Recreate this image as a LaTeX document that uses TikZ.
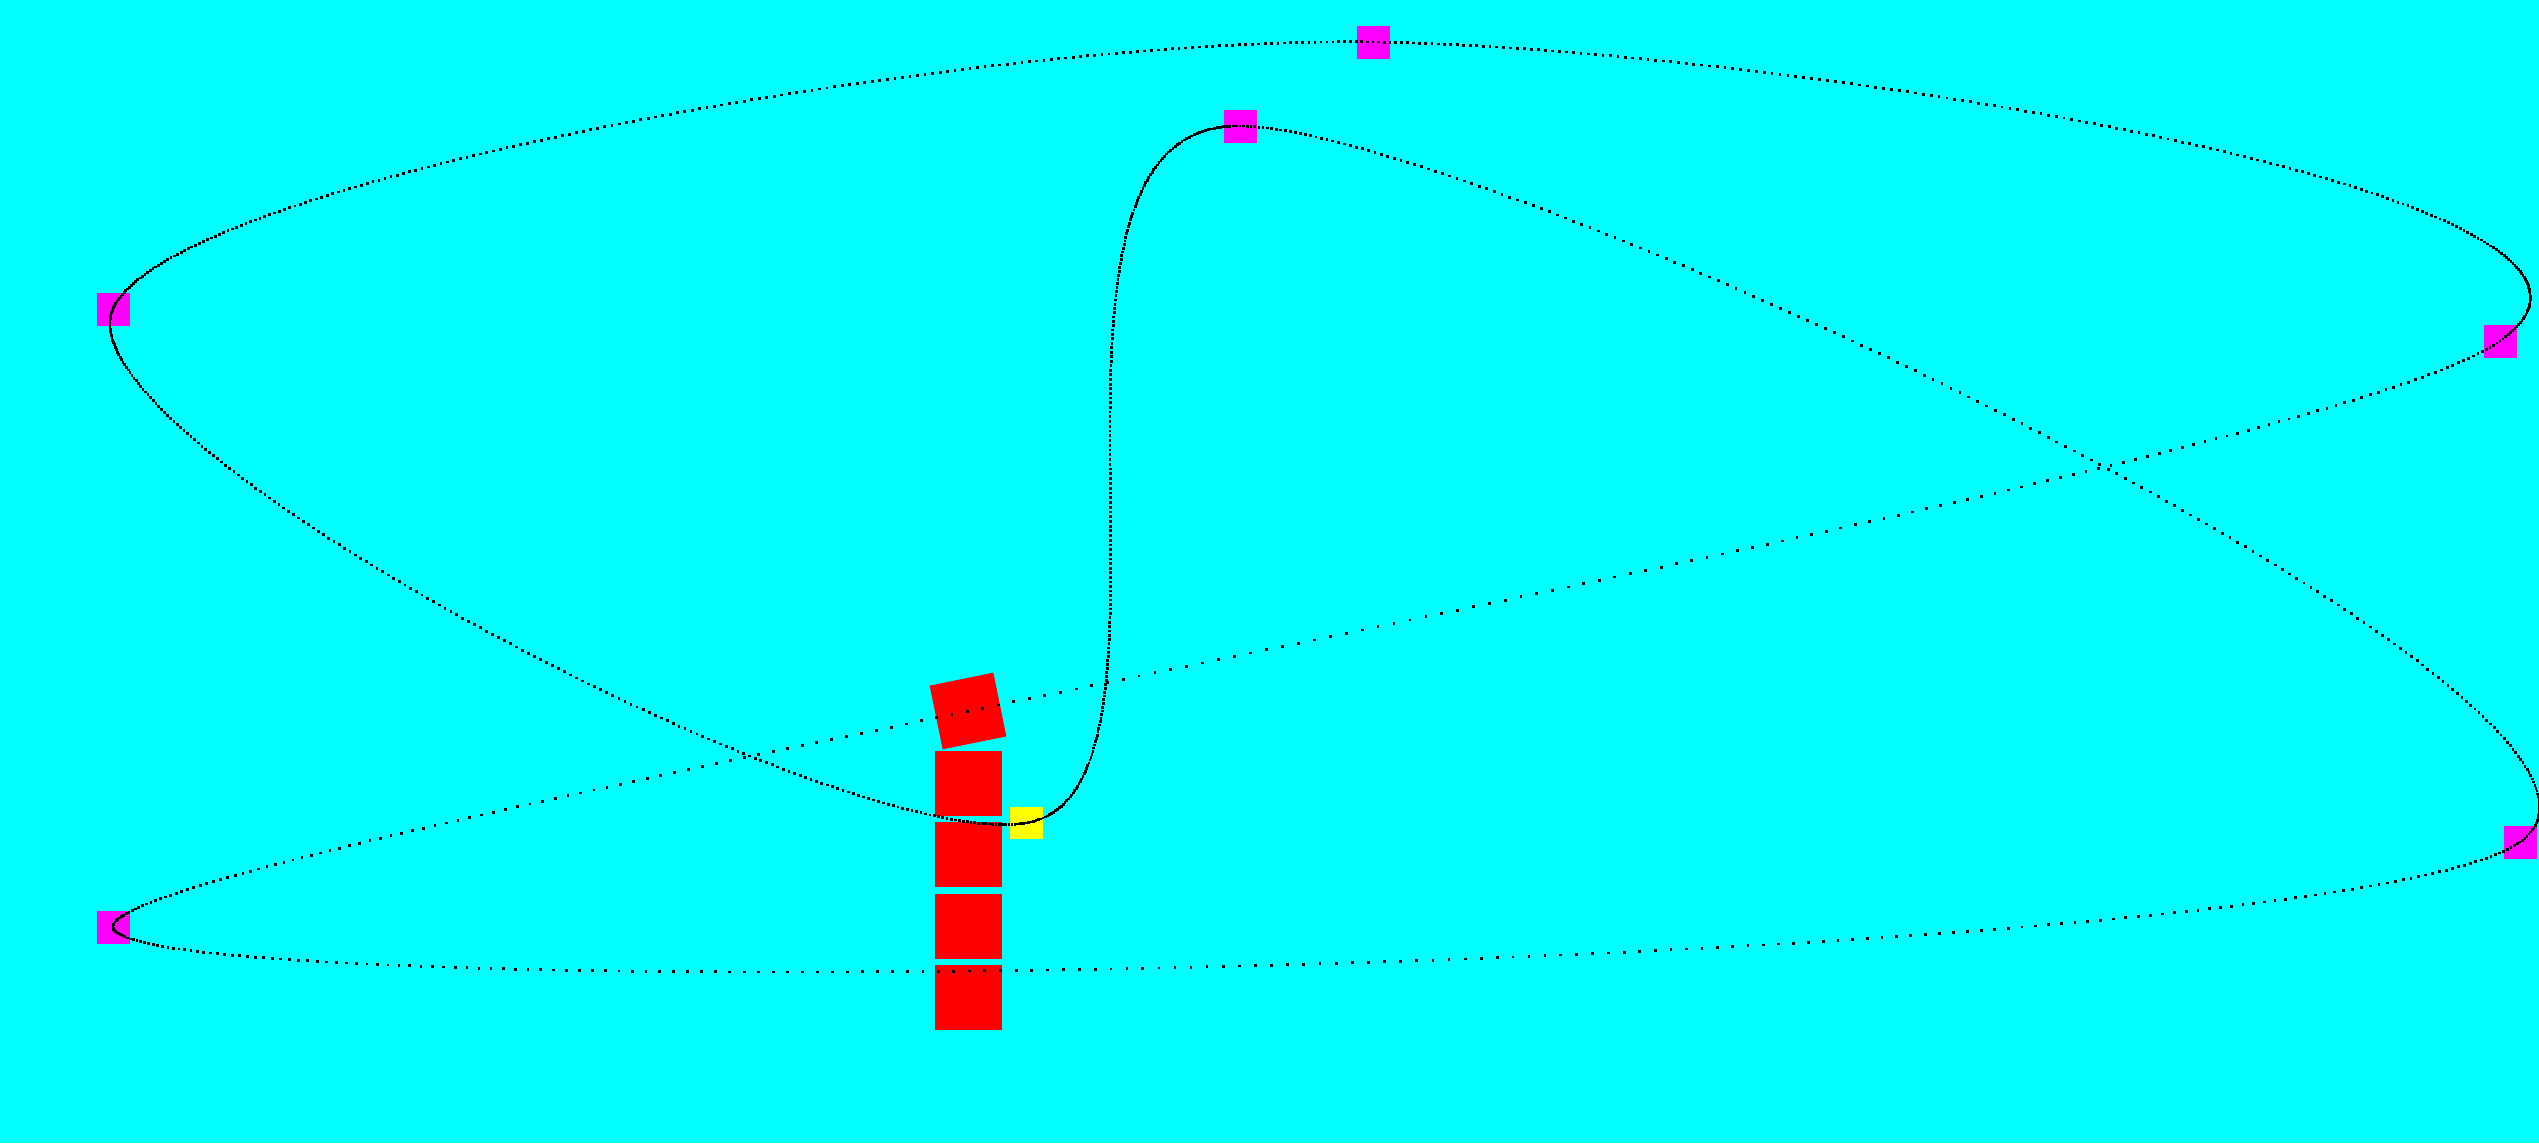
\documentclass[tikz,border=0pt]{standalone}
\definecolor{bgcyan}{RGB}{0,255,255}
\definecolor{mkmagenta}{RGB}{255,0,255}
\definecolor{gyellow}{RGB}{255,255,0}
\definecolor{bred}{RGB}{255,0,0}
\begin{document}
\begin{tikzpicture}[x=10pt,y=-10pt,
  marker/.style={fill=mkmagenta,draw=none,inner sep=0pt,minimum width=33pt,minimum height=33pt},
  goal/.style={fill=gyellow,draw=none,inner sep=0pt,minimum width=33pt,minimum height=32pt},
  block/.style={fill=bred,draw=none,inner sep=0pt,minimum width=67pt,minimum height=65pt},
  pathdot/.style={fill=black}]
\useasboundingbox (0,0) rectangle (253.9,114.3);
\fill[bgcyan] (0,0) rectangle (253.9,114.3);
% red blocks
\node[block] (r1) at (96.85,78.35) {};
\node[block] (r2) at (96.85,85.45) {};
\node[block] (r3) at (96.85,92.65) {};
\node[block] (r4) at (96.85,99.7) {};
\node[block,minimum width=65pt,rotate=11.5] (r5) at (96.8,71.1) {};
% yellow goal
\node[goal] (g) at (102.65,82.3) {};
% magenta markers
\node[marker] (m1) at (137.3,4.2) {};
\node[marker] (m2) at (124.0,12.6) {};
\node[marker] (m3) at (11.3,30.9) {};
\node[marker] (m4) at (250.0,34.1) {};
\node[marker] (m5) at (252.0,84.2) {};
\node[marker] (m6) at (11.3,92.7) {};
% sampled Catmull-Rom curve
\foreach \aX/\aY/\bX/\bY/\cX/\cY/\dX/\dY in {
  11.3/30.9/102.6/82.3/124.0/12.6/252.0/84.2,
  102.6/82.3/124.0/12.6/252.0/84.2/11.3/92.7,
  124.0/12.6/252.0/84.2/11.3/92.7/250.0/34.1,
  252.0/84.2/11.3/92.7/250.0/34.1/137.3/4.2,
  11.3/92.7/250.0/34.1/137.3/4.2/11.3/30.9,
  250.0/34.1/137.3/4.2/11.3/30.9/102.6/82.3,
  137.3/4.2/11.3/30.9/102.6/82.3/124.0/12.6}{
  \foreach \i in {0,...,214}{
    \pgfmathsetmacro\tt{\i/215}
    \pgfmathsetmacro\ta{\tt*\tt}
    \pgfmathsetmacro\tb{\ta*\tt}
    \pgfmathsetmacro\X{0.5*(2*\bX+(\cX-\aX)*\tt+(2*\aX-5*\bX+4*\cX-\dX)*\ta+(3*\bX-\aX-3*\cX+\dX)*\tb)}
    \pgfmathsetmacro\Y{0.5*(2*\bY+(\cY-\aY)*\tt+(2*\aY-5*\bY+4*\cY-\dY)*\ta+(3*\bY-\aY-3*\cY+\dY)*\tb)}
    \fill[pathdot] (\X-0.14,\Y-0.14) rectangle ++(0.28,0.28);
  }
}
\end{tikzpicture}
\end{document}
